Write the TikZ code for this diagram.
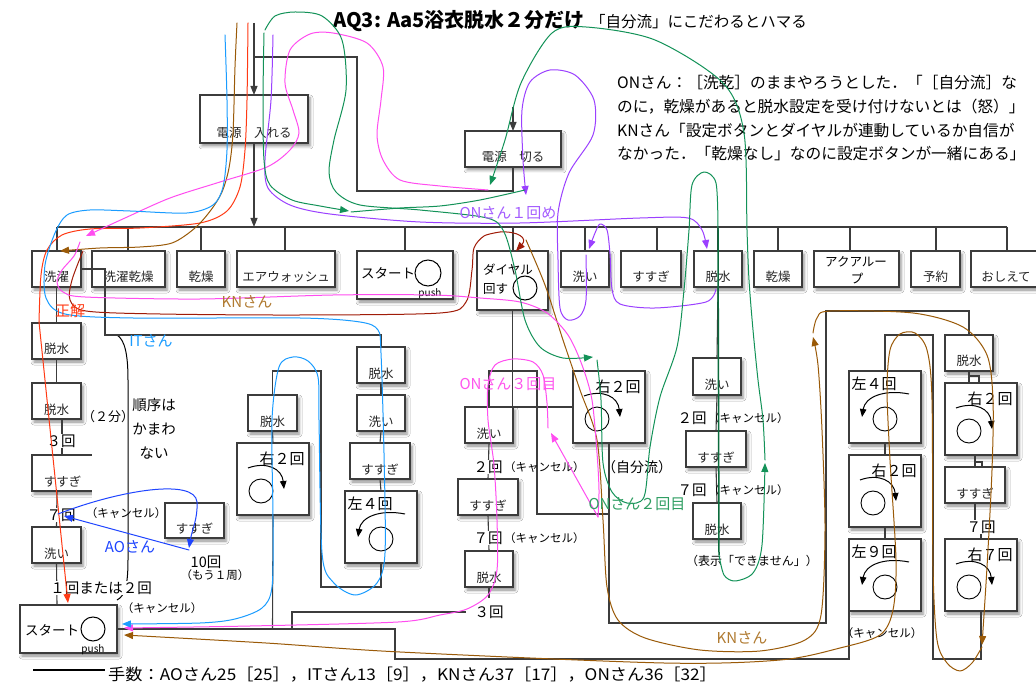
\documentclass[tikz,border=0pt]{standalone}
\usepackage{fontspec}
\setmainfont{Noto Sans CJK JP}
\usetikzlibrary{arrows.meta,fit,shadows.blur}
\definecolor{cRed}{HTML}{FF3A14}
\definecolor{cBrown}{HTML}{9A5A08}
\definecolor{cMaroon}{HTML}{A01C08}
\definecolor{cPink}{HTML}{FF4DF0}
\definecolor{cSky}{HTML}{1A9CFF}
\definecolor{cBlue}{HTML}{1F45FF}
\definecolor{cPurple}{HTML}{9B40FF}
\definecolor{cGreen}{HTML}{139258}
\definecolor{cDGreen}{HTML}{0B6B3C}
\definecolor{cBorder}{HTML}{3C3C3C}
\definecolor{lPurple}{HTML}{A45CFF}
\definecolor{lGreen}{HTML}{2E9E62}
\definecolor{lBrown}{HTML}{B07A30}
\definecolor{lPink}{HTML}{FF55EE}
\newcommand{\mybox}[6]{\node[box, fit={(#2,#3) (#4,#5)}] (#1) {};\node[btext] at ([yshift=5pt]#1.south) {#6};}
\newcommand{\rotR}[4]{%
  \node[box, fit={(#2,#3) (#2+72,#3+72)}] (#1) {};
  \node[rlab] at (#2+45,#3+16) {#4};
  \draw[line width=0.9pt] (#2+24,#3+48) circle[radius=12pt];
  \draw[line width=1pt, -{Triangle[length=8pt,width=6.5pt]}] (#2+11,#3+25) .. controls (#2+30,#3+18) and (#2+45,#3+26) .. (#2+47,#3+46);}
\newcommand{\rotL}[4]{%
  \node[box, fit={(#2,#3) (#2+72,#3+72)}] (#1) {};
  \node[rlab] at (#2+25,#3+13) {#4};
  \draw[line width=0.9pt] (#2+36,#3+48) circle[radius=12pt];
  \draw[line width=1pt, -{Triangle[length=8pt,width=6.5pt]}] (#2+60,#3+23) .. controls (#2+35,#3+18) and (#2+16,#3+26) .. (#2+13,#3+46);}
\begin{document}
\begin{tikzpicture}[x=1pt,y=-1pt,
  box/.style={draw=cBorder, line width=1.1pt, fill=white, inner sep=0pt, outer sep=0pt,
    blur shadow={shadow xshift=2pt, shadow yshift=-3pt, shadow blur radius=3pt, shadow opacity=45}},
  btext/.style={anchor=base, font=\fontsize{12.5}{14}\selectfont, text=black!85, inner sep=0pt},
  rlab/.style={font=\fontsize{15}{17}\selectfont, inner sep=0pt},
  ann/.style={font=\fontsize{14.5}{17}\selectfont, inner sep=1pt},
  sm/.style={font=\fontsize{11.5}{13}\selectfont, inner sep=1pt},
  para/.style={anchor=base west, font=\fontsize{15.7}{18}\selectfont, inner sep=0pt},
  conn/.style={draw=cBorder, line width=1.1pt},
  barr/.style={-{Triangle[length=9pt,width=7pt]}},
  tr/.style={line width=1pt, line cap=round, line join=round},
  ta/.style={-{Triangle[length=9pt,width=7pt]}}]
\useasboundingbox (0,0) rectangle (1036,684);
\fill[white] (0,0) rectangle (1036,684);

% titles
\node[anchor=base west, font=\fontsize{20}{22}\selectfont\bfseries, inner sep=0pt] (title) at (333,28) {AQ3: Aa5浴衣脱水２分だけ};
\node[anchor=base west, font=\fontsize{15.5}{18}\selectfont, inner sep=0pt] (sub) at (590,28) {「自分流」にこだわるとハマる};
\node[para] (p1) at (617,89) {ONさん：［洗乾］のままやろうとした．「［自分流］な};
\node[para] (p2) at (617,113) {のに，乾燥があると脱水設定を受け付けないとは（怒）」};
\node[para] (p3) at (617,137) {KNさん「設定ボタンとダイヤルが連動しているか自信が};
\node[para] (p4) at (617,160) {なかった．「乾燥なし」なのに設定ボタンが一緒にある」};

% power boxes
\mybox{pon}{200}{95}{308}{143}{電源\hspace{1em}入れる}
\mybox{poff}{465}{131}{561}{167}{電源\hspace{1em}切る}

% button row
\mybox{b1}{32}{251}{81}{287}{洗濯}
\mybox{b2}{92}{251}{165}{287}{洗濯乾燥}
\mybox{b3}{177}{251}{225}{287}{乾燥}
\mybox{b4}{237}{251}{335}{287}{エアウォッシュ}
\mybox{b5}{357}{251}{453}{299}{}
\node[font=\fontsize{13.5}{16}\selectfont, inner sep=0pt] (b5t) at (388,273) {スタート};
\draw[line width=1pt] (428,273) circle[radius=13pt];
\node[font=\fontsize{10}{12}\selectfont, inner sep=0pt] (b5p) at (430,294) {push};
\mybox{b6}{477}{251}{548}{310}{}
\node[font=\fontsize{12.5}{14}\selectfont, inner sep=0pt, anchor=west] (b6t) at (483,270) {ダイヤル};
\node[font=\fontsize{12.5}{14}\selectfont, inner sep=0pt, anchor=west] (b6u) at (483,289) {回す};
\draw[line width=1pt] (525,288) circle[radius=12pt];
\mybox{b7}{561}{251}{609}{287}{洗い}
\mybox{b8}{621}{251}{681}{287}{すすぎ}
\mybox{b9}{694}{251}{742}{287}{脱水}
\mybox{b10}{754}{251}{802}{287}{乾燥}
\mybox{b11}{814}{251}{899}{287}{}
\node[font=\fontsize{12.5}{14}\selectfont, inner sep=0pt] (b11t) at (856,262) {アクアルー};
\node[font=\fontsize{12.5}{14}\selectfont, inner sep=0pt] (b11u) at (857,279) {プ};
\mybox{b12}{911}{251}{960}{287}{予約}
\mybox{b13}{971}{251}{1045}{287}{}
\node[btext] at (1006,282) {おしえて};

% left column
\mybox{l1}{32}{323}{81}{359}{脱水}
\mybox{l2}{32}{383}{81}{419}{脱水}
\mybox{l3}{32}{455}{93}{491}{すすぎ}
\mybox{l4}{32}{527}{81}{563}{洗い}
\mybox{s2}{20}{605}{117}{653}{}
\node[font=\fontsize{13.5}{16}\selectfont, inner sep=0pt] (s2t) at (52,630) {スタート};
\draw[line width=1pt] (93,629) circle[radius=12pt];
\node[font=\fontsize{10}{12}\selectfont, inner sep=0pt] (s2p) at (93,650) {push};
\mybox{a1}{165}{503}{224}{538}{すすぎ}

% IT columns
\mybox{m1}{357}{347}{405}{383}{脱水}
\mybox{m2}{357}{395}{405}{431}{洗い}
\mybox{m3}{350}{443}{410}{479}{すすぎ}
\rotL{La}{345}{491}{左４回}
\mybox{k1}{248}{395}{297}{431}{脱水}
\rotR{Ra}{237}{443}{右２回}

% ON column
\mybox{o1}{465}{407}{513}{443}{洗い}
\mybox{o2}{458}{479}{518}{515}{すすぎ}
\mybox{o3}{465}{551}{513}{587}{脱水}
\rotR{RJ}{573}{371}{右２回}

% middle right column
\mybox{q5}{693}{358}{741}{395}{洗い}
\mybox{q6}{686}{431}{746}{467}{すすぎ}
\mybox{q7}{693}{503}{741}{539}{脱水}

% right blocks
\rotL{r1}{849}{371}{左４回}
\rotR{r2}{849}{455}{右２回}
\rotL{r3}{849}{539}{左９回}
\mybox{q1}{945}{335}{993}{371}{脱水}
\rotR{q2}{945}{383}{右２回}
\mybox{q3}{945}{467}{1005}{503}{すすぎ}
\rotR{q4}{945}{539}{右７回}

% bracket (2分)
\fill[white] (92,336) rectangle (123,600);
\draw[line width=1pt] (117,335) .. controls (125,340) and (128,355) .. (128,380) -- (128,560) .. controls (128,585) and (125,596) .. (117,600);

% black connectors
\draw[conn,barr] (254,23) -- (pon.north);
\draw[conn] (254,57) -| (357,191) -| (poff.south);
\draw[conn,barr] (513,107) -- (poff.north);
\draw[conn,barr] (pon.south) -- (254,227);
\draw[conn] (57,227) -- (1007,227);
\foreach \x in {57,128,201,285,405,513,585,657,718,778,850,936,1007} \draw[conn] (\x,227) -- (\x,251);
\draw[conn] (b1.south) -- (l1.north);
\draw[conn] (l1.south) -- (l2.north);
\draw[conn] (62,419) -- (62,455);
\draw[conn] (57,491) -- (l4.north);
\draw[conn] (l4.south) -- (57,605);
\draw[conn] (b1.east) -| (105,335) -| (m1.north);
\draw[conn] (m1.south) -- (m2.north);
\draw[conn] (m2.south) -- (m3.north);
\draw[conn] (m3.south) -- (La.north);
\draw[conn] (La.south) -- (381,587) -| (321,371) -| (k1.north);
\draw[conn] (k1.south) -- (Ra.north);
\draw[conn] (Ra.south) -- (272.5,629);
\draw[conn] (s2.east) -- (395,629) -- (395,659) -| (r3.south west);
\draw[conn] (292,629) -- (292,612) -- (466,612);
\draw[conn] (o3.south) -- (489,598);
\draw[conn] (o1.north) -- (489,371) -| (537,514) -- (609,514);
\draw[conn] (b6.south) |- (RJ.west);
\draw[conn] (o1.south) -- (o2.north);
\draw[conn] (o2.south) -- (o3.north);
\draw[conn] (RJ.south) -- (609,623) -| (826,311) -| (q1.north);
\draw[conn] (b9.south) -- (q5.north);
\draw[conn] (q5.south) -- (q6.north);
\draw[conn] (q6.south) -- (q7.north);
\draw[conn] (r1.north) |- (933,335) -- (933,659) -| (q4.south);
\draw[conn] (r1.south) -- (r2.north);
\draw[conn] (r2.south) -- (r3.north);
\draw[conn] (969,371) -- (969,383);
\draw[conn] (969,376) -- (979,376) -- (979,383);
\draw[conn] (975,455) -- (975,467);
\draw[conn] (975,462) -- (982,462) -- (982,467);
\draw[conn] (q3.south) -- (975,520);
\draw[conn] (981,534) -- (q4.north);

% annotations
\node[ann, fill=white] (t3) at (61,441) {３回};
\node[ann, fill=white] (t7) at (61,515) {７回};
\node[ann, fill=white] (t12) at (101,588) {１回または２回};
\node[sm] (c1) at (126,513) {（キャンセル）};
\node[sm] (c2) at (162,608) {（キャンセル）};
\node[font=\fontsize{13}{15}\selectfont, inner sep=0pt] (m2f) at (108,417) {（２分）};
\node[ann] (j1) at (154,405) {順序は};
\node[ann] (j2) at (154,429) {かまわ};
\node[ann] (j3) at (154,453) {ない};
\node[ann] (t10) at (206,562) {10回};
\node[sm] (mo) at (215,575) {（もう１周）};
\node[ann, fill=white] (o2t) at (488,467) {２回};
\node[sm, anchor=west] (o2c) at (503,467) {（キャンセル）};
\node[ann, fill=white] (o7t) at (488,538) {７回};
\node[sm, anchor=west] (o7c) at (503,538) {（キャンセル）};
\node[ann] (o3t) at (489,612) {３回};
\node[font=\fontsize{14}{16}\selectfont, inner sep=0pt] (jb) at (637,467) {（自分流）};
\node[ann, fill=white] (q2t) at (692,418) {２回};
\node[sm, anchor=west] (q2c) at (707,418) {（キャンセル）};
\node[ann, fill=white] (q7t) at (692,490) {７回};
\node[sm, anchor=west] (q7c) at (707,490) {（キャンセル）};
\node[font=\fontsize{12}{14}\selectfont, inner sep=0pt] (dk) at (752,561) {（表示「できません」）};
\node[ann, fill=white] (r7t) at (981,527) {７回};
\node[sm] (rc) at (882,633) {（キャンセル）};

% bottom legend
\draw[line width=2.2pt] (33,670) -- (105,670);
\node[anchor=west, font=\fontsize{16}{18}\selectfont, inner sep=0pt] (leg) at (108,675) {\scalebox{1.075}[1]{手数：AOさん25［25］，ITさん13［9］，KNさん37［17］，ONさん36［32］}};

% ---- traces ----
% red (正解)
\draw[tr,cRed] plot[smooth,tension=0.5] coordinates {(248,23) (247,100) (245,150) (240,187) (227,211) (200,223) (140,228) (90,229) (62,235) (47,250) (41,275) (39,322)};
\draw[tr,cRed,ta] (39,322) -- (68,603);
% brown KN
\draw[tr,cBrown,ta] plot[smooth,tension=0.5] coordinates {(237,23) (235,67) (233,133) (229,168) (222,192) (211,210) (195,228) (172,243) (140,247) (100,248) (60,251)};
\draw[tr,cMaroon] plot[smooth,tension=0.5] coordinates {(83,251) (72,280) (70,300) (86,311) (160,314) (300,315) (440,313) (466,302) (472,270) (474,248) (484,236) (500,232)};
\draw[tr,cMaroon,ta] (500,232) .. controls (518,231) and (528,238) .. (516,251);
\draw[tr,cBrown,ta] plot[smooth,tension=0.5] coordinates {(526,240) (545,285) (563,340) (580,390) (597,440) (603,520) (607,587) (618,620) (645,638) (700,650) (760,651) (805,640) (821,615) (825,530) (822,430) (818,365) (813,337)};
\draw[tr,cBrown,ta] plot[smooth,tension=0.5] coordinates {(813,333) (817,318) (830,311) (913,313) (963,327) (987,355) (993,400) (992,470) (987,567) (982,645)};
\draw[tr,cBrown,ta] plot[smooth,tension=0.5] coordinates {(982,647) (972,663) (960,671) (947,663) (937,640) (933,567) (932,400) (927,350) (915,333) (900,334) (890,350) (887,390) (890,460) (896,560) (893,610) (880,635) (840,648) (780,660) (664,663) (400,652) (266,643) (124,635)};
% pink
\draw[tr,cPink,ta] plot[smooth,tension=0.5] coordinates {(488,190) (440,186) (400,180) (383,160) (377,135) (381,100) (383,67) (367,43) (333,33) (310,34) (290,50) (285,83) (293,110) (299,133) (290,150) (267,167) (220,182) (170,198) (125,218) (86,236)};
\draw[tr,cPink] plot[smooth,tension=0.5] coordinates {(80,242) (74,256) (62,270) (57,282) (63,292) (85,297) (200,299) (333,295) (433,295) (480,298) (520,302) (547,313) (568,335) (582,365) (592,400) (597,453) (599,490) (598,517)};
\draw[tr,cPink,ta] (598,517) -- (551,433);
\draw[tr,cPink,ta] plot[smooth,tension=0.5] coordinates {(548,428) (547,403) (543,375) (533,362) (513,359) (495,365) (488,385) (488,420) (494,465) (497,520) (497,570) (488,595) (467,609) (440,615) (398,622) (250,626) (124,628)};
% sky blue IT
\draw[tr,cSky,ta] plot[smooth,tension=0.5] coordinates {(225,35) (227,100) (227,150) (223,187) (213,205) (187,213) (130,211) (90,210) (67,215) (55,233) (45,265) (46,298) (65,314) (133,318) (300,318) (360,322) (378,330) (381,353) (384,453) (385,553) (377,583) (355,595) (333,582) (322,553) (319,420) (318,377) (308,361) (293,357) (279,367) (272,420) (273,520) (272,587) (262,608) (235,619) (200,623) (122,624)};
% blue AO
\draw[tr,cBlue,ta] (58,514) .. controls (120,490) and (195,478) .. (197,502) .. controls (198,518) and (192,530) .. (189,548);
\draw[tr,cBlue,ta] (189,550) -- (64,516);
% purple ON 1
\draw[tr,cPurple,ta] plot[smooth,tension=0.5] coordinates {(273,35) (271,100) (265,160) (268,188) (290,205) (330,214) (420,222) (520,223) (640,218) (688,218) (702,230) (707,249)};
\draw[tr,cPurple,ta] plot[smooth,tension=0.5] coordinates {(716,289) (706,302) (655,308) (620,304) (612,289) (610,254) (607,230) (600,224) (595,233) (589,249)};
\draw[tr,cPurple,ta] plot[smooth,tension=0.5] coordinates {(586,255) (586,300) (580,316) (568,320) (560,308) (558,260) (558,213) (569,173) (593,135) (594,100) (575,75) (550,70) (530,82) (522,110) (523,160) (526,195)};
% green ON 2
\draw[tr,cGreen,ta] plot[smooth,tension=0.5] coordinates {(264,33) (263,100) (264,160) (270,185) (292,200) (320,206) (349,211)};
\draw[tr,cGreen] plot[smooth,tension=0.5] coordinates {(351,212) (400,208) (440,206) (480,200) (525,190)};
\draw[tr,cGreen,ta] plot[smooth,tension=0.5] coordinates {(265,30) (275,16) (295,12) (322,16) (342,40) (346,90) (334,140) (329,172) (336,192) (360,205) (420,210) (487,218) (504,232) (515,270) (525,320) (540,347) (563,358) (593,357)};
\draw[tr,cGreen] plot[smooth,tension=0.5] coordinates {(597,360) (601,400) (603,463) (612,492) (627,503) (644,497) (650,447) (660,397) (677,347) (684,290) (689,230) (692,185) (704,172) (716,183) (718,230)};
\draw[cDGreen, line width=1.5pt] (718,230) -- (719,555);
\draw[tr,cGreen,ta] plot[smooth,tension=0.5] coordinates {(719,555) (724,575) (735,581) (753,573) (762,545) (765,463)};
\draw[tr,cGreen,ta] plot[smooth,tension=0.5] coordinates {(765,460) (763,420) (758,380) (753,330) (749,280) (747,230) (744,133) (723,83) (655,40) (586,27) (552,33) (521,83) (505,140) (490,185)};

% trace labels
\node[font=\fontsize{15}{17}\selectfont, text=cRed, inner sep=0pt] (lr) at (70,311) {正解};
\node[font=\fontsize{15}{17}\selectfont, text=lBrown, inner sep=0pt] (lk) at (247,302) {KNさん};
\node[font=\fontsize{15}{17}\selectfont, text=cSky, inner sep=0pt] (li) at (151,341) {ITさん};
\node[font=\fontsize{15}{17}\selectfont, text=cBlue, inner sep=0pt] (la) at (130,547) {AOさん};
\node[font=\fontsize{15}{17}\selectfont, text=lPurple, inner sep=0pt] (lo1) at (508,213) {ONさん１回め};
\node[font=\fontsize{15}{17}\selectfont, text=lPink, inner sep=0pt] (lo3) at (508,384) {ONさん３回目};
\node[font=\fontsize{15}{17}\selectfont, text=lGreen, inner sep=0pt] (lo2) at (637,504) {ONさん２回目};
\node[font=\fontsize{15}{17}\selectfont, text=lBrown, inner sep=0pt] (lk2) at (742,638) {KNさん};
\end{tikzpicture}
\end{document}
